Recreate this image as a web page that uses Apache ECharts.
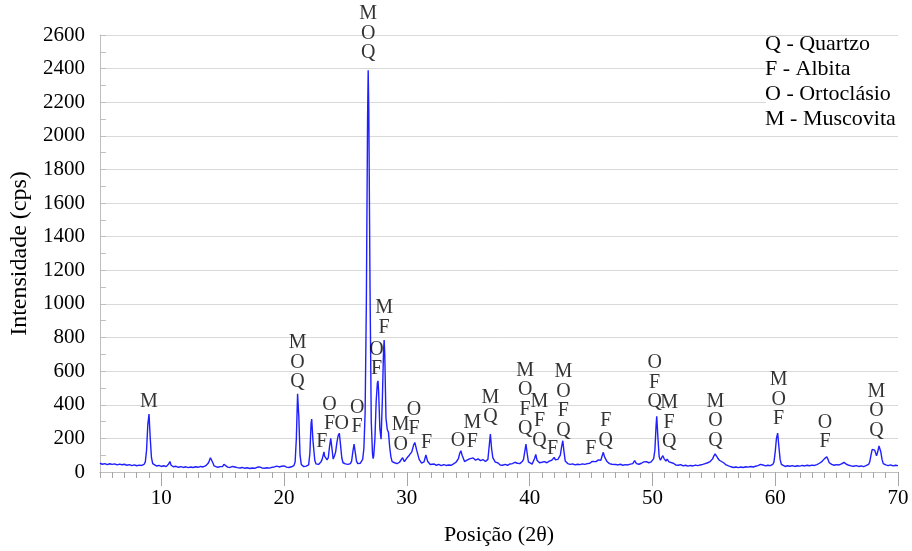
<!DOCTYPE html>
<html>
<head>
<meta charset="utf-8">
<script src="https://cdn.jsdelivr.net/npm/echarts@6/dist/echarts.min.js"></script>
<style>
  html, body { margin: 0; padding: 0; background: #fff; }
  #chart { width: 912px; height: 551px; }
</style>
</head>
<body>
<div id="chart"></div>
<script>
const twoTheta = [
  5.0, 5.2, 5.4, 5.6, 5.8, 6.0, 6.2, 6.4, 6.6, 6.8, 7.0, 7.2, 7.4, 7.6, 7.8, 8.0, 8.2, 8.4, 8.6, 8.7, 8.8, 8.9, 9.0, 9.1, 9.2, 9.3, 9.4, 9.6, 9.8,
  10.0, 10.2, 10.4, 10.6, 10.7, 10.8, 11.0, 11.2, 11.4, 11.6, 11.8, 12.0, 12.2, 12.4, 12.6, 12.8, 13.0, 13.2, 13.4, 13.6, 13.8, 13.9,
  14.0, 14.1, 14.2, 14.3, 14.4, 14.6, 14.8, 15.0, 15.1, 15.2, 15.4, 15.6, 15.8, 15.9, 16.0, 16.2, 16.4, 16.6, 16.8, 17.0, 17.2, 17.4,
  17.6, 17.8, 17.9, 18.0, 18.2, 18.4, 18.6, 18.8, 19.0, 19.2, 19.4, 19.6, 19.8, 19.9, 20.0, 20.2, 20.4, 20.6, 20.8, 20.9,
  21.0, 21.1, 21.2, 21.3, 21.4, 21.6, 21.8, 22.0, 22.1, 22.2, 22.25, 22.35, 22.5, 22.6, 22.8, 23.0, 23.1, 23.2, 23.25, 23.3, 23.4,
  23.5, 23.6, 23.7, 23.8, 23.9, 24.0, 24.1, 24.2, 24.3, 24.4, 24.5, 24.6, 24.7, 24.8, 25.0, 25.2, 25.4, 25.5, 25.6, 25.7, 25.8, 25.9,
  26.0, 26.2, 26.4, 26.5, 26.6, 26.7, 26.8, 26.85, 26.9, 27.0, 27.1, 27.2, 27.25, 27.3, 27.4, 27.5, 27.6, 27.65, 27.7, 27.8, 27.9,
  28.0, 28.1, 28.15, 28.2, 28.3, 28.4, 28.5, 28.6, 28.7, 28.8, 29.0, 29.2, 29.4, 29.5, 29.65, 29.8, 30.0, 30.2, 30.4, 30.55, 30.65,
  30.8, 31.0, 31.2, 31.4, 31.55, 31.7, 31.9, 32.0, 32.2, 32.4, 32.6, 32.8, 33.0, 33.2, 33.4, 33.6, 33.8, 34.0, 34.2, 34.3, 34.4, 34.5,
  34.7, 34.9, 35.1, 35.2, 35.4, 35.6, 35.8, 36.0, 36.2, 36.4, 36.6, 36.7, 36.8, 36.9, 37.0, 37.2, 37.4, 37.6, 37.8, 38.0, 38.2, 38.4,
  38.6, 38.8, 38.9, 39.0, 39.2, 39.4, 39.5, 39.6, 39.7, 39.8, 39.9, 40.0, 40.2, 40.3, 40.4, 40.5, 40.6, 40.8, 41.0, 41.2, 41.4, 41.6,
  41.8, 41.9, 42.0, 42.1, 42.3, 42.5, 42.6, 42.7, 42.8, 42.9, 43.1, 43.3, 43.5, 43.7, 43.9, 44.1, 44.3, 44.5, 44.7, 44.9, 45.0, 45.1,
  45.2, 45.4, 45.6, 45.7, 45.8, 45.9, 46.0, 46.1, 46.3, 46.5, 46.7, 47.0, 47.2, 47.4, 47.6, 47.8, 48.0, 48.2, 48.4, 48.5, 48.55, 48.7,
  48.9, 49.1, 49.3, 49.4, 49.5, 49.7, 49.9, 50.1, 50.2, 50.3, 50.35, 50.45, 50.55, 50.65, 50.75, 50.85, 50.95, 51.1, 51.2, 51.35, 51.5,
  51.7, 51.9, 52.1, 52.3, 52.5, 52.7, 52.9, 53.1, 53.3, 53.5, 53.7, 53.9, 54.1, 54.3, 54.5, 54.7, 54.9, 55.0, 55.1, 55.15, 55.3, 55.45,
  55.6, 55.8, 56.0, 56.2, 56.4, 56.6, 56.8, 57.0, 57.2, 57.4, 57.6, 57.8, 58.0, 58.2, 58.4, 58.6, 58.8, 58.9, 59.0, 59.2, 59.4, 59.6,
  59.8, 59.9, 60.0, 60.1, 60.2, 60.3, 60.4, 60.5, 60.6, 60.8, 61.0, 61.2, 61.4, 61.6, 61.8, 62.0, 62.2, 62.4, 62.6, 62.8, 63.0, 63.2,
  63.4, 63.6, 63.8, 64.0, 64.2, 64.3, 64.4, 64.6, 64.8, 65.0, 65.2, 65.4, 65.6, 65.8, 66.0, 66.2, 66.4, 66.6, 66.8, 67.0, 67.2, 67.4,
  67.6, 67.7, 67.8, 67.9, 68.0, 68.1, 68.25, 68.35, 68.45, 68.5, 68.6, 68.7, 68.8, 69.0, 69.2, 69.4, 69.6, 69.8, 70.0
];
const intensity = [
  52, 46, 50, 44, 49, 45, 48, 42, 47, 43, 46, 40, 44, 38, 42, 37, 41, 39, 46, 60, 130, 280, 345, 200, 85, 50, 40, 36, 39,
  33, 37, 32, 48, 62, 40, 31, 34, 28, 32, 27, 31, 26, 30, 27, 31, 28, 33, 30, 36, 50, 65,
  85, 92, 55, 36, 30, 28, 32, 33, 46, 38, 29, 27, 33, 40, 30, 26, 24, 27, 22, 25, 21, 24,
  22, 28, 35, 30, 24, 22, 25, 23, 28, 30, 35, 30, 34, 42, 36, 29, 27, 31, 38, 60,
  200, 465, 330, 100, 45, 32, 35, 42, 110, 290, 315, 190, 70, 48, 45, 60, 75, 105, 120, 95, 97,
  72, 85, 150, 200, 140, 77, 95, 120, 175, 215, 231, 160, 85, 55, 48, 45, 50, 65, 120, 166, 115, 65,
  50, 52, 75, 140, 350, 1000, 2100, 2390, 2150, 1100, 300, 110, 80, 95, 200, 420, 530, 542, 480, 260, 195,
  420, 720, 785, 700, 320, 255, 237, 150, 90, 62, 55, 50, 58, 68, 85, 62, 83, 100, 120, 160, 176,
  130, 75, 53, 60, 101, 62, 45, 42, 48, 40, 45, 38, 44, 39, 42, 40, 48, 58, 80, 110, 127, 100,
  62, 70, 78, 68, 84, 70, 78, 68, 74, 62, 75, 150, 225, 140, 85, 59, 55, 42, 40, 45, 40, 48,
  50, 58, 67, 52, 50, 62, 75, 120, 166, 110, 60, 50, 47, 55, 80, 105, 70, 55, 58, 62, 55, 65,
  70, 80, 87, 72, 75, 100, 150, 186, 120, 65, 50, 45, 48, 42, 46, 44, 48, 45, 50, 52, 60, 63,
  55, 62, 72, 77, 70, 95, 117, 90, 62, 50, 46, 45, 42, 46, 40, 44, 42, 47, 50, 60, 67, 50,
  46, 52, 60, 70, 62, 55, 60, 80, 130, 280, 332, 200, 90, 70, 85, 97, 80, 65, 77, 60, 67,
  52, 42, 40, 44, 36, 40, 35, 39, 36, 41, 38, 42, 45, 50, 55, 62, 78, 95, 108, 112, 85, 70,
  81, 55, 42, 36, 31, 27, 30, 26, 30, 27, 31, 29, 33, 30, 34, 38, 45, 52, 42, 36, 40, 38,
  45, 60, 120, 200, 231, 150, 75, 45, 38, 33, 37, 34, 38, 33, 37, 35, 39, 36, 40, 37, 41, 39,
  44, 52, 62, 78, 91, 75, 55, 45, 40, 44, 42, 48, 57, 46, 40, 36, 34, 38, 33, 36, 32, 38,
  45, 60, 100, 135, 146, 130, 97, 120, 155, 160, 120, 75, 50, 42, 38, 42, 36, 40, 38
];

// identificação das fases: [posição, cota do rótulo, fases]
const phaseLabels = [
  [9.0, 362, 'M'],
  [21.1, 478, 'M\nO\nQ'],
  [23.07, 120, 'F'],
  [23.7, 229, 'O\nF'],
  [24.7, 229, 'O'],
  [25.95, 211, 'O\nF'],
  [26.85, 2435, 'M\nO\nQ'],
  [27.53, 555, 'O\nF'],
  [28.14, 801, 'M\nF'],
  [29.5, 106, 'M\nO'],
  [30.58, 199, 'O\nF'],
  [31.6, 116, 'F'],
  [34.17, 129, 'O'],
  [35.33, 120, 'M\nF'],
  [36.81, 268, 'M\nQ'],
  [39.63, 199, 'M\nO\nF\nQ'],
  [40.8, 129, 'M\nF\nQ'],
  [41.87, 80, 'F'],
  [42.75, 189, 'M\nO\nF\nQ'],
  [44.98, 80, 'F'],
  [46.2, 129, 'F\nQ'],
  [50.18, 357, 'O\nF\nQ'],
  [51.36, 120, 'M\nF\nQ'],
  [55.13, 129, 'M\nO\nQ'],
  [60.28, 258, 'M\nO\nF'],
  [64.06, 120, 'O\nF'],
  [68.25, 189, 'M\nO\nQ']
];

const legendLines = ['Q - Quartzo', 'F - Albita', 'O - Ortoclásio', 'M - Muscovita'];
const minorTicks = [5, 6, 7, 8, 9, 10, 11, 12, 13, 14, 15, 16, 17, 18, 19, 20, 21, 22, 23, 24, 25, 26, 27, 28, 29, 30,
  31, 32, 33, 34, 35, 36, 37, 38, 39, 40, 41, 42, 43, 44, 45, 46, 47, 48, 49, 50, 51, 52, 53, 54, 55, 56, 57, 58, 59, 60,
  61, 62, 63, 64, 65, 66, 67, 68, 69, 70];
const majorTicks = [10, 20, 30, 40, 50, 60, 70];

const serif = '"Liberation Serif", "Times New Roman", serif';
const chart = echarts.init(document.getElementById('chart'));

const seriesData = twoTheta.map((x, i) => [x, intensity[i]]);

const option = {
  animation: false,
  backgroundColor: '#fff',
  grid: { left: 97, right: 14, top: 35, bottom: 78 },
  xAxis: [
    {
      type: 'value', min: 5, max: 70,
      axisLine: { show: true, onZero: false, lineStyle: { color: '#bfbfbf', width: 1 } },
      axisTick: { show: true, length: 6, customValues: minorTicks, lineStyle: { color: '#a6a6a6' } },
      axisLabel: { show: false },
      splitLine: { show: false }
    },
    {
      type: 'value', min: 5, max: 70, position: 'bottom',
      name: 'Posição (2θ)', nameLocation: 'middle', nameGap: 52,
      nameTextStyle: { fontFamily: serif, fontSize: 22, color: '#000' },
      axisLine: { show: false },
      axisTick: { show: true, length: 14, customValues: majorTicks, lineStyle: { color: '#a6a6a6' } },
      axisLabel: { customValues: majorTicks, margin: 16, fontFamily: serif, fontSize: 21, color: '#000' },
      splitLine: { show: false }
    }
  ],
  yAxis: {
    type: 'value', min: 0, max: 2600, interval: 200,
    name: 'Intensidade (cps)', nameLocation: 'middle', nameGap: 65,
    nameTextStyle: { fontFamily: serif, fontSize: 24, color: '#000' },
    axisLine: { show: true, lineStyle: { color: '#bfbfbf' } },
    axisTick: { show: true, inside: true, length: 6, lineStyle: { color: '#bfbfbf' } },
    minorTick: { show: true, splitNumber: 2, length: 6, lineStyle: { color: '#bfbfbf' } },
    axisLabel: { margin: 15, fontFamily: serif, fontSize: 21, color: '#000', formatter: v => String(v) },
    splitLine: { show: true, lineStyle: { color: '#d9d9d9', width: 1 } }
  },
  graphic: [
    {
      type: 'rect', left: 766, top: 38, z: 10,
      shape: { width: 132, height: 94 },
      style: { fill: '#fff' }
    },
    {
      type: 'text', left: 765, top: 32, z: 11,
      style: { text: legendLines.join('\n'), fontFamily: serif, fontSize: 22, lineHeight: 25, fill: '#000' }
    }
  ],
  series: [
    {
      type: 'line',
      xAxisIndex: 0,
      data: seriesData,
      showSymbol: false,
      symbol: 'none',
      lineStyle: { color: '#1f1fff', width: 1.4 },
      silent: true,
      z: 2
    },
    {
      type: 'scatter',
      xAxisIndex: 0,
      data: phaseLabels,
      symbolSize: 0,
      silent: true,
      z: 3,
      label: {
        show: true,
        position: 'top',
        distance: 0,
        formatter: p => p.value[2],
        fontFamily: serif,
        fontSize: 20,
        lineHeight: 19.5,
        color: '#000',
        align: 'center'
      }
    }
  ]
};

chart.setOption(option);
</script>
</body>
</html>
